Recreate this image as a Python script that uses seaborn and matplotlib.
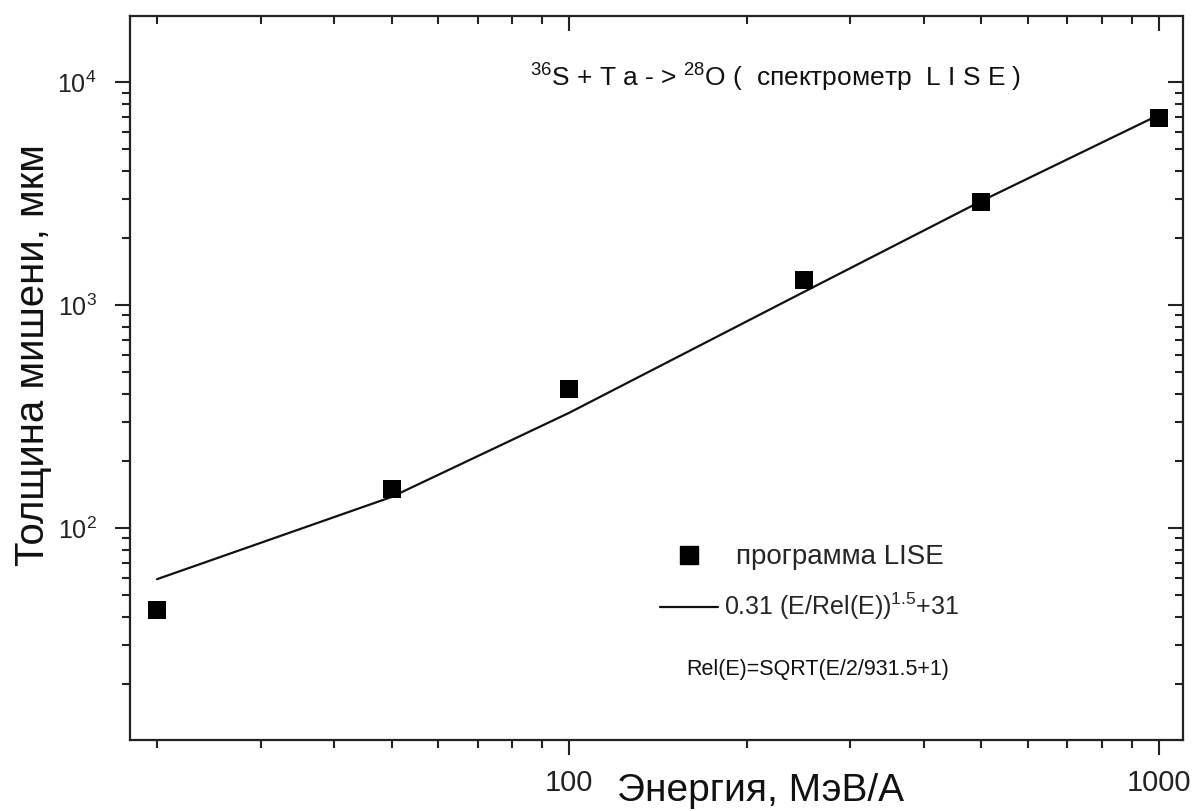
import numpy as np
import pandas as pd
import matplotlib
matplotlib.use("Agg")
import matplotlib.pyplot as plt
import matplotlib.ticker as mticker
from matplotlib.lines import Line2D
import seaborn as sns

# LISE calculation points: beam energy (MeV/A) vs. target thickness (um)
energy_pts = [20, 50, 100, 250, 500, 1000]
thickness_pts = [43, 150, 420, 1300, 2900, 6950]

# Fit curve 0.31 (E/Rel(E))^1.5 + 31 evaluated at the same energies
energy_fit = [20, 50, 100, 250, 500, 1000]
thickness_fit = [59, 138, 329, 1146, 2931, 7133]

x_ticklabels = {100: "100", 1000: "1000"}

sns.set_theme(style="ticks")
plt.rcParams["font.family"] = ["Liberation Sans", "DejaVu Sans"]
plt.rcParams["mathtext.fontset"] = "custom"
plt.rcParams["mathtext.rm"] = "Liberation Sans"
plt.rcParams["mathtext.it"] = "Liberation Sans"

fig = plt.figure(figsize=(11.95, 8.11), dpi=100)
ax = fig.add_axes([0.1088, 0.0875, 0.8812, 0.8925])

pts = pd.DataFrame({"E": energy_pts, "T": thickness_pts})
fit = pd.DataFrame({"E": energy_fit, "T": thickness_fit})

sns.lineplot(data=fit, x="E", y="T", ax=ax, color="#111111", lw=1.6,
             sort=True, estimator=None)
sns.scatterplot(data=pts, x="E", y="T", ax=ax, marker="s", s=175,
                color="black", edgecolor="black", linewidth=0, zorder=3)

ax.set_xscale("log")
ax.set_yscale("log")
ax.set_xlim(18, 1100)
ax.set_ylim(11.2, 19800)

ax.xaxis.set_major_locator(mticker.FixedLocator([100, 1000]))
ax.xaxis.set_major_formatter(mticker.FixedFormatter([x_ticklabels[100], x_ticklabels[1000]]))
ax.xaxis.set_minor_locator(mticker.LogLocator(base=10, subs=np.arange(2, 10)))
ax.xaxis.set_minor_formatter(mticker.NullFormatter())
ax.yaxis.set_major_locator(mticker.LogLocator(base=10))
ax.yaxis.set_minor_locator(mticker.LogLocator(base=10, subs=np.arange(2, 10)))
ax.yaxis.set_minor_formatter(mticker.NullFormatter())

for s in ax.spines.values():
    s.set_visible(True)
    s.set_linewidth(1.6)
    s.set_color("#222222")

ax.tick_params(axis="both", which="major", length=11, width=1.5, color="#222222",
               pad=9, labelcolor="#222222")
ax.tick_params(axis="x", which="major", labelsize=21, pad=10)
ax.tick_params(axis="y", which="major", labelsize=18, pad=13)
ax.tick_params(axis="both", which="minor", length=6, width=1.5, color="#222222")
# outward ticks on the left/bottom, inward mirrored ticks on the top/right
ax.tick_params(axis="x", which="both", top=True, direction="out")
ax.tick_params(axis="y", which="both", right=True, direction="out")
for t in ax.xaxis.get_major_ticks() + ax.xaxis.get_minor_ticks():
    t.tick2line.set_marker(3)  # TICKDOWN
for t in ax.yaxis.get_major_ticks() + ax.yaxis.get_minor_ticks():
    t.tick2line.set_marker(0)  # TICKLEFT

ax.set_xlabel("Энергия, МэВ/А", fontsize=28, color="#111111")
ax.set_ylabel("Толщина мишени, мкм", fontsize=29, color="#111111")
ax.xaxis.set_label_coords(0.599, -0.046)
ax.yaxis.set_label_coords(-0.074, 0.532)

ax.text(0.38, 0.903, r"$^{36}$S + T a - > $^{28}$O (  спектрометр  L I S E )",
        transform=ax.transAxes, fontsize=19, color="#111111", ha="left", va="baseline")

handles = [
    Line2D([], [], marker="s", ls="none", color="black", markersize=13),
    Line2D([], [], color="#111111", lw=1.6),
]
labels = ["программа LISE", r"0.31 (E/Rel(E))$^{1.5}$+31"]
leg = ax.legend(handles, labels, loc="upper left", bbox_to_anchor=(0.494, 0.285),
                frameon=False, fontsize=18, handlelength=2.3, handletextpad=0.25,
                labelspacing=0.85, borderaxespad=0)
leg.get_texts()[0].set_fontsize(20)
leg.get_texts()[0].set_x(12)

ax.text(0.528, 0.097, "Rel(E)=SQRT(E/2/931.5+1)", transform=ax.transAxes,
        fontsize=15.5, color="#111111", ha="left", va="center")

fig.savefig("out.png", dpi=100)
